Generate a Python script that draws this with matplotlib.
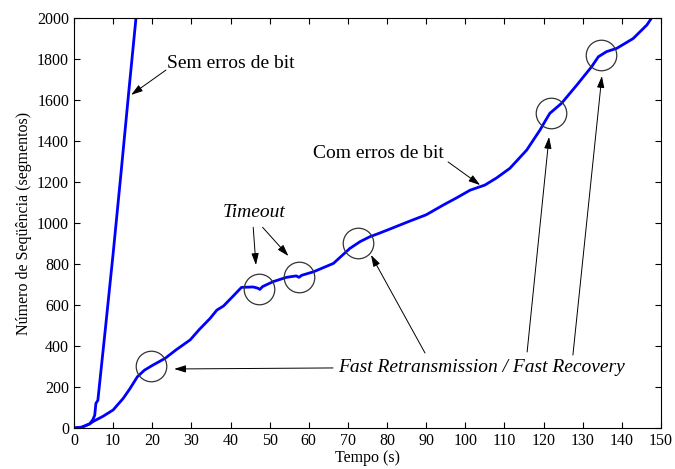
import numpy as np
import matplotlib
matplotlib.use("Agg")
import matplotlib.pyplot as plt

plt.rcParams['font.family'] = ['Liberation Serif', 'DejaVu Serif']

# Sequence number vs time, transfer with bit errors
tempo_erros = [0, 2, 4, 5, 7.5, 10, 12.6, 14.3, 16.2, 18, 20, 23.3, 26, 29.7, 32,
               34.8, 36.5, 38.2, 40.5, 42.8, 45.8, 47, 47.5, 48.2, 50.9, 54.3,
               56.8, 57.5, 58.2, 61.2, 66.3, 70.5, 73.1, 75.6, 78, 80, 85.9, 90,
               94.4, 98, 101.2, 105, 108, 111.4, 115.7, 119.1, 120.5, 121.6,
               124.6, 128.5, 132.3, 134, 136.1, 138.7, 142.9, 146.4, 147.6, 150]
seq_erros = [0, 4, 20, 33, 58, 88, 145, 192, 250, 282, 305, 340, 380, 430, 480,
             535, 575, 595, 640, 686, 688, 682, 676, 690, 714, 735,
             742, 735, 745, 762, 803, 876, 909, 933, 950, 965, 1010, 1040,
             1088, 1125, 1160, 1185, 1220, 1267, 1356, 1454, 1500, 1535,
             1584, 1673, 1763, 1811, 1836, 1852, 1900, 1966, 2000, 2040]

# Sequence number vs time, transfer without bit errors
tempo_sem = [0, 2, 4, 4.8, 5.3, 5.6, 6.1, 8, 10, 12, 14, 16, 16.3]
seq_sem = [0, 4, 20, 40, 62, 120, 135, 480, 850, 1240, 1640, 2030, 2090]

# Instants of fast retransmission / timeout events
eventos = [19.6, 47.3, 57.4, 72.6, 121.8, 134.6]

fig = plt.figure(figsize=(6.75, 4.69), dpi=100)
ax = fig.add_axes([0.1096, 0.0874, 0.8696, 0.8742])

ax.plot(tempo_sem, seq_sem, color='#0000ff', lw=2)
ax.plot(tempo_erros, seq_erros, color='#0000ff', lw=2)

ev_y = np.interp(eventos, tempo_erros, seq_erros)
ax.plot(eventos, ev_y, 'o', ms=22, mfc='none', mec='#333333', mew=0.9)

ax.set_xlim(0, 150)
ax.set_ylim(0, 2000)
ax.set_xticks(np.arange(0, 151, 10))
ax.set_yticks(np.arange(0, 2001, 200))
ax.tick_params(direction='in', top=True, right=True, length=4, labelsize=11.5)
for s in ax.spines.values():
    s.set_linewidth(0.8)

ax.set_xlabel('Tempo (s)', fontsize=11.5, labelpad=1)
ax.set_ylabel('Número de Seqüência (segmentos)', fontsize=11.5, labelpad=4)

seta = dict(arrowstyle='-|>,head_length=0.7,head_width=0.22', color='k',
            lw=0.7, shrinkA=0, shrinkB=0)


def arrow(tip, start):
    ax.annotate('', xy=tip, xytext=start, arrowprops=seta)


ax.text(23.8, 1780, 'Sem erros de bit', fontsize=14, ha='left', va='center')
arrow((14.6, 1625), (23.5, 1746))

ax.text(61.1, 1341, 'Com erros de bit', fontsize=14, ha='left', va='center')
arrow((103.8, 1185), (95.6, 1298))

ax.text(46.1, 1050, 'Timeout', fontsize=14, style='italic', ha='center', va='center')
arrow((46.5, 795), (45.8, 979))
arrow((54.8, 839), (48.2, 979))

ax.text(67.5, 296, 'Fast Retransmission / Fast Recovery', fontsize=14,
        style='italic', ha='left', va='center')
arrow((25.6, 288), (66.2, 293))
arrow((75.9, 844), (89.7, 366))
arrow((121.4, 1420), (115.8, 371))
arrow((134.9, 1717), (127.5, 356))

fig.savefig('out.png', dpi=100)
